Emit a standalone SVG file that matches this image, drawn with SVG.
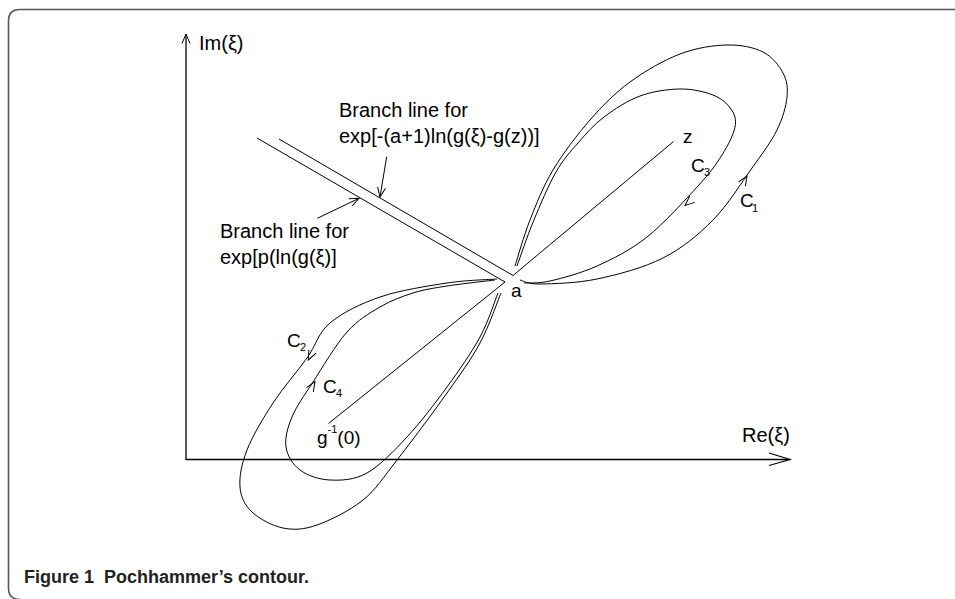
<svg xmlns="http://www.w3.org/2000/svg" width="955" height="599" viewBox="0 0 955 599">
<style>
  .ln { fill: none; stroke: #000; stroke-width: 1; }
  .ax { fill: none; stroke: #000; stroke-width: 1.3; }
  .tip { fill: none; stroke: none; }
  .t { font-family: "Liberation Sans", Arial, sans-serif; font-size: 20px; fill: #000; }
  .c { font-family: "Liberation Sans", Arial, sans-serif; font-size: 19px; fill: #000; }
  .s { font-size: 11px; }
  .cap { font-family: "Liberation Sans", Arial, sans-serif; font-size: 18px; font-weight: bold; fill: #222; }
</style>
<defs>
  <marker id="v" markerUnits="userSpaceOnUse" orient="auto" overflow="visible" refX="0" refY="0" markerWidth="1" markerHeight="1">
    <path d="M -9.5,-4 L 0,0 L -9.5,4" fill="none" stroke="#000" stroke-width="1"/>
  </marker>
  <marker id="vbig" markerUnits="userSpaceOnUse" orient="auto" overflow="visible" refX="0" refY="0" markerWidth="1" markerHeight="1">
    <path d="M -21,-6.5 L 0,0 L -21,6" fill="none" stroke="#000" stroke-width="1.2"/>
  </marker>
</defs>
<rect x="0" y="0" width="955" height="599" fill="#fff"/>
<path id="frame" d="M 955,9.5 H 20 Q 8.5,9.5 8.5,21 V 588 Q 8.5,599.5 20,599.5" fill="none" stroke="#555" stroke-width="1.6"/>

<g id="axes">
  <path class="ax" d="M 186,460 V 34" marker-end="url(#v)"/>
  <path class="ax" d="M 186,459.5 H 790" marker-end="url(#vbig)"/>
  <text class="t" x="199" y="50">Im(ξ)</text>
  <text class="t" x="742" y="442">Re(ξ)</text>
</g>

<g id="branch-lines">
  <polyline class="ln" points="279,139 513,275.5 673.5,141.5"/>
  <polyline class="ln" points="257,138 505,282 328.5,423.5"/>
  <text class="t" x="339" y="117">Branch line for</text>
  <text class="t" x="339" y="143">exp[-(a+1)ln(g(ξ)-g(z))]</text>
  <text class="t" x="220" y="238">Branch line for</text>
  <text class="t" x="220" y="264">exp[p(ln(g(ξ)]</text>
</g>

<g id="connectors">
  <path class="ln" d="M 386.7,156.7 L 380,197" marker-end="url(#v)"/>
  <path class="ln" d="M 317.3,218.3 L 359,198.3" marker-end="url(#v)"/>
</g>

<g id="contour-C1">
  <path class="ln" d="M 515,266 C 517.5,258.3 523.7,236 530,220 C 536.3,204 543,186.7 553,170 C 563,153.3 577.2,134.7 590,120 C 602.8,105.3 615,93 630,82 C 645,71 663.8,60.2 680,54 C 696.2,47.8 713.2,45.3 727,45 C 740.8,44.7 753.7,47.3 763,52 C 772.3,56.7 779,65.5 783,73 C 787,80.5 788,87.5 787,97 C 786,106.5 782.8,118.2 777,130 C 771.2,141.8 762.7,153 752,168 C 741.3,183 727.8,205 713,220 C 698.2,235 682.3,248.2 663,258 C 643.7,267.8 617.5,274.7 597,279 C 576.5,283.3 552.8,283.8 540,284 C 527.2,284.2 523.3,280.7 520,280"/>
  <path class="tip" d="M 744.5,180 L 747,176" marker-end="url(#v)"/>
  <text class="c" x="740" y="207">C<tspan class="s" x="752" dy="5">1</tspan></text>
</g>

<g id="contour-C3">
  <path class="ln" d="M 517,266 C 519.75,258.5 527,236.7 533.5,221 C 540,205.3 548.6,185 556,172 C 563.4,159 570,152.2 578,143 C 586,133.8 593.7,124.8 604,117 C 614.3,109.2 627.3,100.7 640,96 C 652.7,91.3 667.8,89.2 680,89 C 692.2,88.8 704.5,91.7 713,95 C 721.5,98.3 727.3,103.7 731,109 C 734.7,114.3 736.5,119.3 735,127 C 733.5,134.7 728.2,145.2 722,155 C 715.8,164.8 710.5,172.3 698,186 C 685.5,199.7 663.8,223.7 647,237 C 630.2,250.3 613.2,258.7 597,266 C 580.8,273.3 562.2,278.2 550,281 C 537.8,283.8 528.3,282.7 524,283"/>
  <path class="tip" d="M 692,199.5 L 685,205.5" marker-end="url(#v)"/>
  <text class="c" x="691" y="172">C<tspan class="s" x="704" dy="4">3</tspan></text>
</g>

<g id="contour-C2">
  <path class="ln" d="M 497,279 C 488.7,279.7 466.5,280 447,283 C 427.5,286 399.5,290.3 380,297 C 360.5,303.7 342.2,312.8 330,323 C 317.8,333.2 316.5,344.7 307,358 C 297.5,371.3 283,387.7 273,403 C 263,418.3 252.5,436 247,450 C 241.5,464 239.2,476.7 240,487 C 240.8,497.3 244.8,505.2 252,512 C 259.2,518.8 272.2,525.8 283,528 C 293.8,530.2 303.7,529.7 317,525 C 330.3,520.3 349.7,510.8 363,500 C 376.3,489.2 383,477.8 397,460 C 411,442.2 433.2,412.5 447,393 C 460.8,373.5 471,359.7 480,343 C 489,326.3 497.5,301.3 501,293"/>
  <path class="tip" d="M 311,354.5 L 308.3,360" marker-end="url(#v)"/>
  <text class="c" x="287" y="347">C<tspan class="s" x="300" dy="4">2</tspan></text>
</g>

<g id="contour-C4">
  <path class="ln" d="M 495,280 C 487,281 460.7,283.8 447,286 C 433.3,288.2 424.2,289.5 413,293 C 401.8,296.5 391,300.5 380,307 C 369,313.5 358.2,319.5 347,332 C 335.8,344.5 322.2,367.8 313,382 C 303.8,396.2 296.5,406.2 292,417 C 287.5,427.8 284.7,438.2 286,447 C 287.3,455.8 292.7,464.5 300,470 C 307.3,475.5 318.8,479.5 330,480 C 341.2,480.5 354.2,480.2 367,473 C 379.8,465.8 393.7,451.3 407,437 C 420.3,422.7 434.8,403.7 447,387 C 459.2,370.3 471.5,352.7 480,337 C 488.5,321.3 495,300.3 498,293"/>
  <path class="tip" d="M 311,388 L 315,381.7" marker-end="url(#v)"/>
  <text class="c" x="323" y="393">C<tspan class="s" x="336" dy="4">4</tspan></text>
</g>

<g id="points">
  <text class="c" x="683" y="143">z</text>
  <text class="c" x="511" y="297">a</text>
  <text class="c" x="317" y="444">g<tspan class="s" dy="-11">-1</tspan><tspan dy="11">(0)</tspan></text>
</g>

<text class="cap" x="24" y="583">Figure 1<tspan x="104">Pochhammer’s contour.</tspan></text>
</svg>
